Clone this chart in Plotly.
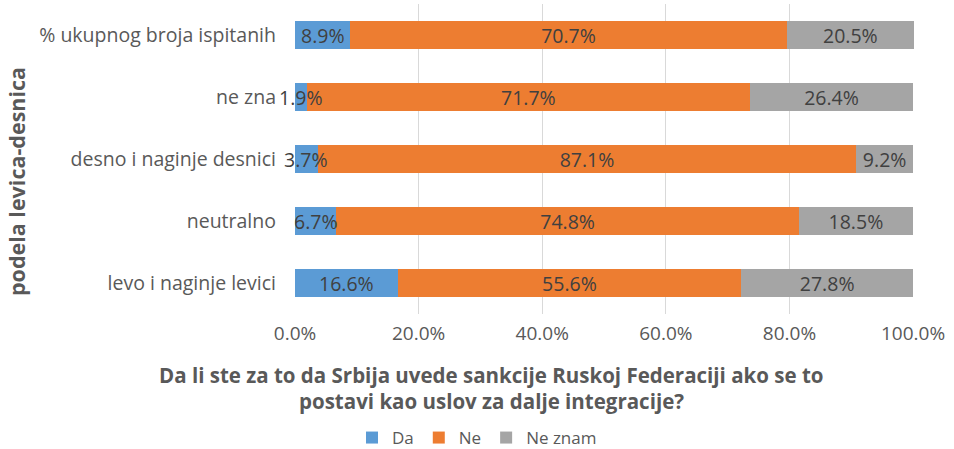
import plotly.graph_objects as go

categories = ["levo i naginje levici", "neutralno", "desno i naginje desnici", "ne zna", "% ukupnog broja ispitanih"]
da = [16.6, 6.7, 3.7, 1.9, 8.9]
ne = [55.6, 74.8, 87.1, 71.7, 70.7]
ne_znam = [27.8, 18.5, 9.2, 26.4, 20.5]
series_names = ["Da", "Ne", "Ne znam"]
colors = ["#5B9BD5", "#ED7D31", "#A5A5A5"]
tick_vals = [0, 20, 40, 60, 80, 100]
x_title_lines = ["Da li ste za to da Srbija uvede sankcije Ruskoj Federaciji ako se to",
                 "postavi kao uslov za dalje integracije?"]
y_title = "podela levica-desnica"

FONT = "Open Sans, Noto Sans, sans-serif"
LABEL_FONT = dict(family=FONT, size=19.5, color="#404040")

fig = go.Figure()
for i, (name, vals, col) in enumerate(zip(series_names, [da, ne, ne_znam], colors)):
    fig.add_trace(go.Bar(
        y=categories, x=vals, name=name, orientation="h",
        marker=dict(color=col, line=dict(width=0)),
        texttemplate="%{x:.1f}%" if i > 0 else "",
        textposition="inside", textangle=0,
        insidetextanchor="middle", constraintext="none",
        textfont=LABEL_FONT,
        cliponaxis=False, hoverinfo="skip",
    ))

# "Da" labels drawn on top so they can overflow their narrow bars
for cat, v in zip(categories, da):
    fig.add_annotation(
        x=v / 2, y=cat, xref="x", yref="y", text=f"{v:.1f}%",
        showarrow=False, xanchor="center", yanchor="middle",
        font=LABEL_FONT,
    )

fig.update_layout(
    barmode="stack",
    bargap=0.55,
    width=954, height=449,
    margin=dict(l=295, r=40, t=4, b=135, autoexpand=False),
    paper_bgcolor="white", plot_bgcolor="white",
    font=dict(family=FONT, size=15, color="#595959"),
    showlegend=True,
    legend=dict(orientation="h", x=0.5, xref="container", xanchor="center",
                y=11 / 449, yref="container", yanchor="middle",
                font=dict(size=17, color="#595959"), traceorder="normal",
                itemwidth=30, tracegroupgap=0),
)
fig.update_xaxes(
    range=[0, 100.15], tickvals=tick_vals, ticktext=[f"{v:.1f}%" for v in tick_vals],
    showgrid=True, gridcolor="#D9D9D9", gridwidth=1, zeroline=False,
    showline=False, ticks="", ticklabelstandoff=6,
    tickfont=dict(size=19, color="#595959"),
)
fig.update_yaxes(
    showgrid=False, zeroline=False, showline=False, ticks="",
    ticklabelstandoff=18, tickfont=dict(size=19.5, color="#595959"),
)
for line, ypos in zip(x_title_lines, [-0.1968, -0.2806]):
    fig.add_annotation(
        text=f"<b>{line}</b>",
        xref="paper", yref="paper", x=0.318, y=ypos, xanchor="center", yanchor="middle",
        showarrow=False, font=dict(size=20.5, color="#595959"), align="center",
    )
fig.add_annotation(
    text=f"<b>{y_title}</b>",
    xref="paper", yref="paper", x=-0.449, y=0.426, xanchor="center", yanchor="middle",
    textangle=-90, showarrow=False, font=dict(size=21.5, color="#595959"),
)

fig.write_html("out.html", config={"displayModeBar": False},
               post_script="document.body.style.margin='0';")
